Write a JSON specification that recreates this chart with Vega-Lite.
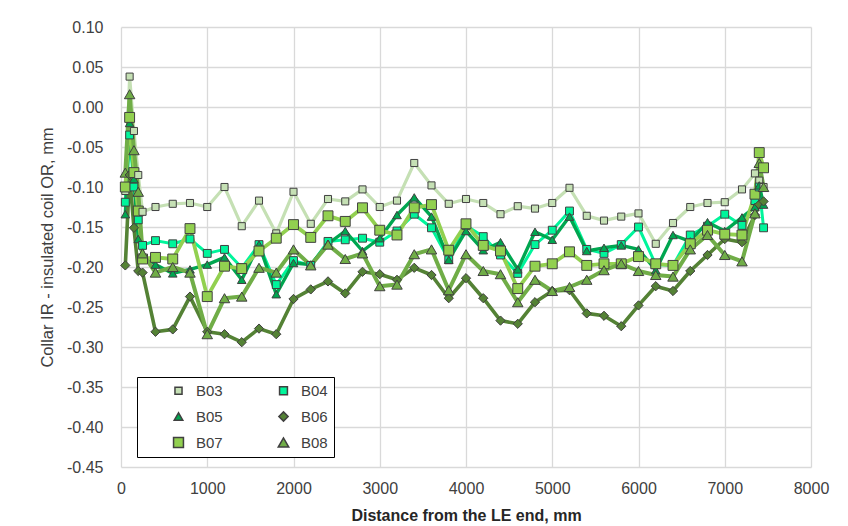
{
  "$schema": "https://vega.github.io/schema/vega-lite/v6.json",
  "width": 690,
  "height": 440,
  "autosize": {"type": "none"},
  "padding": {"left": 121, "top": 27, "right": 37, "bottom": 59},
  "background": "white",
  "config": {
    "view": {"stroke": null},
    "font": "Liberation Sans"
  },
  "data": {
    "values": [
      {"x": 50, "B03": -0.105, "B04": -0.119, "B05": -0.134, "B06": -0.198, "B07": -0.100, "B08": -0.082},
      {"x": 100, "B03": 0.038, "B04": -0.035, "B05": -0.020, "B06": -0.085, "B07": -0.013, "B08": 0.016},
      {"x": 150, "B03": -0.030, "B04": -0.100, "B05": -0.090, "B06": -0.151, "B07": -0.082, "B08": -0.054},
      {"x": 200, "B03": -0.085, "B04": -0.141, "B05": -0.165, "B06": -0.205, "B07": -0.130, "B08": -0.106},
      {"x": 250, "B03": -0.131, "B04": -0.173, "B05": -0.185, "B06": -0.207, "B07": -0.190, "B08": -0.183},
      {"x": 400, "B03": -0.125, "B04": -0.167, "B05": -0.197, "B06": -0.281, "B07": -0.188, "B08": -0.207},
      {"x": 600, "B03": -0.121, "B04": -0.171, "B05": -0.208, "B06": -0.278, "B07": -0.190, "B08": -0.200},
      {"x": 800, "B03": -0.120, "B04": -0.165, "B05": -0.203, "B06": -0.237, "B07": -0.152, "B08": -0.207},
      {"x": 1000, "B03": -0.125, "B04": -0.183, "B05": -0.197, "B06": -0.281, "B07": -0.237, "B08": -0.284},
      {"x": 1200, "B03": -0.100, "B04": -0.178, "B05": -0.188, "B06": -0.284, "B07": -0.199, "B08": -0.239},
      {"x": 1400, "B03": -0.149, "B04": -0.201, "B05": -0.216, "B06": -0.294, "B07": -0.202, "B08": -0.237},
      {"x": 1600, "B03": -0.117, "B04": -0.172, "B05": -0.172, "B06": -0.277, "B07": -0.180, "B08": -0.201},
      {"x": 1800, "B03": -0.158, "B04": -0.222, "B05": -0.234, "B06": -0.284, "B07": -0.164, "B08": -0.207},
      {"x": 2000, "B03": -0.106, "B04": -0.192, "B05": -0.195, "B06": -0.240, "B07": -0.147, "B08": -0.178},
      {"x": 2200, "B03": -0.146, "B04": -0.198, "B05": -0.197, "B06": -0.228, "B07": -0.163, "B08": -0.198},
      {"x": 2400, "B03": -0.115, "B04": -0.168, "B05": -0.171, "B06": -0.218, "B07": -0.136, "B08": -0.172},
      {"x": 2600, "B03": -0.118, "B04": -0.166, "B05": -0.155, "B06": -0.233, "B07": -0.143, "B08": -0.190},
      {"x": 2800, "B03": -0.103, "B04": -0.164, "B05": -0.180, "B06": -0.206, "B07": -0.126, "B08": -0.183},
      {"x": 3000, "B03": -0.125, "B04": -0.169, "B05": -0.164, "B06": -0.209, "B07": -0.154, "B08": -0.224},
      {"x": 3200, "B03": -0.117, "B04": -0.155, "B05": -0.135, "B06": -0.216, "B07": -0.160, "B08": -0.222},
      {"x": 3400, "B03": -0.070, "B04": -0.134, "B05": -0.113, "B06": -0.201, "B07": -0.126, "B08": -0.184},
      {"x": 3600, "B03": -0.098, "B04": -0.151, "B05": -0.137, "B06": -0.210, "B07": -0.122, "B08": -0.178},
      {"x": 3800, "B03": -0.121, "B04": -0.191, "B05": -0.191, "B06": -0.239, "B07": -0.179, "B08": -0.229},
      {"x": 4000, "B03": -0.115, "B04": -0.148, "B05": -0.155, "B06": -0.214, "B07": -0.146, "B08": -0.184},
      {"x": 4200, "B03": -0.120, "B04": -0.162, "B05": -0.179, "B06": -0.239, "B07": -0.173, "B08": -0.205},
      {"x": 4400, "B03": -0.134, "B04": -0.185, "B05": -0.169, "B06": -0.267, "B07": -0.180, "B08": -0.209},
      {"x": 4600, "B03": -0.124, "B04": -0.208, "B05": -0.203, "B06": -0.271, "B07": -0.227, "B08": -0.244},
      {"x": 4800, "B03": -0.127, "B04": -0.172, "B05": -0.156, "B06": -0.244, "B07": -0.199, "B08": -0.216},
      {"x": 5000, "B03": -0.120, "B04": -0.154, "B05": -0.166, "B06": -0.230, "B07": -0.196, "B08": -0.230},
      {"x": 5200, "B03": -0.101, "B04": -0.130, "B05": -0.137, "B06": -0.229, "B07": -0.181, "B08": -0.225},
      {"x": 5400, "B03": -0.136, "B04": -0.178, "B05": -0.180, "B06": -0.258, "B07": -0.198, "B08": -0.216},
      {"x": 5600, "B03": -0.142, "B04": -0.183, "B05": -0.176, "B06": -0.261, "B07": -0.196, "B08": -0.204},
      {"x": 5800, "B03": -0.137, "B04": -0.172, "B05": -0.173, "B06": -0.274, "B07": -0.196, "B08": -0.196},
      {"x": 6000, "B03": -0.133, "B04": -0.150, "B05": -0.178, "B06": -0.248, "B07": -0.187, "B08": -0.205},
      {"x": 6200, "B03": -0.171, "B04": -0.197, "B05": -0.204, "B06": -0.224, "B07": -0.196, "B08": -0.210},
      {"x": 6400, "B03": -0.145, "B04": -0.198, "B05": -0.160, "B06": -0.230, "B07": -0.198, "B08": -0.212},
      {"x": 6600, "B03": -0.125, "B04": -0.160, "B05": -0.168, "B06": -0.205, "B07": -0.171, "B08": -0.178},
      {"x": 6800, "B03": -0.120, "B04": -0.149, "B05": -0.144, "B06": -0.185, "B07": -0.154, "B08": -0.160},
      {"x": 7000, "B03": -0.119, "B04": -0.134, "B05": -0.155, "B06": -0.165, "B07": -0.159, "B08": -0.185},
      {"x": 7200, "B03": -0.103, "B04": -0.148, "B05": -0.138, "B06": -0.169, "B07": -0.160, "B08": -0.193},
      {"x": 7350, "B03": -0.083, "B04": -0.117, "B05": -0.125, "B06": -0.135, "B07": -0.109, "B08": -0.133},
      {"x": 7400, "B03": -0.092, "B04": -0.100, "B05": -0.098, "B06": -0.122, "B07": -0.057, "B08": -0.070},
      {"x": 7450, "B03": -0.100, "B04": -0.151, "B05": -0.122, "B06": -0.118, "B07": -0.076, "B08": -0.100}
    ]
  },
  "transform": [{"fold": ["B03", "B04", "B05", "B06", "B07", "B08"], "as": ["series", "value"]}],
  "encoding": {
    "x": {
      "field": "x",
      "type": "quantitative",
      "scale": {"domain": [0, 8000], "nice": false},
      "axis": {
        "title": "Distance from the LE end, mm",
        "values": [0, 1000, 2000, 3000, 4000, 5000, 6000, 7000, 8000],
        "format": "d",
        "grid": true,
        "gridColor": "#D9D9D9",
        "gridWidth": 1.3,
        "domain": false,
        "ticks": false,
        "labelFont": "Liberation Sans",
        "labelFontSize": 16,
        "labelColor": "#404040",
        "labelPadding": 13,
        "labelFlush": false,
        "titleFont": "Liberation Sans",
        "titleFontSize": 16,
        "titleFontWeight": "bold",
        "titleColor": "#262626",
        "titlePadding": 11
      }
    },
    "y": {
      "field": "value",
      "type": "quantitative",
      "scale": {"domain": [-0.45, 0.1], "nice": false, "zero": false},
      "axis": {
        "title": "Collar IR - insulated coil OR, mm",
        "values": [0.1, 0.05, 0, -0.05, -0.1, -0.15, -0.2, -0.25, -0.3, -0.35, -0.4, -0.45],
        "labelExpr": "replace(format(datum.value, '.2f'), '\u2212', '-')",
        "grid": true,
        "gridColor": "#D9D9D9",
        "gridWidth": 1.3,
        "domain": false,
        "ticks": false,
        "labelFont": "Liberation Sans",
        "labelFontSize": 16,
        "labelColor": "#404040",
        "labelPadding": 18,
        "labelFlush": false,
        "titleFont": "Liberation Sans",
        "titleFontSize": 16.5,
        "titleFontWeight": "normal",
        "titleColor": "#404040",
        "titlePadding": 11
      }
    }
  },
  "layer": [
    {
      "mark": {"type": "line", "strokeJoin": "round"},
      "encoding": {
        "stroke": {
          "field": "series",
          "type": "nominal",
          "scale": {"domain": ["B08", "B07", "B06", "B05", "B04", "B03"], "range": ["#70AD47", "#92D050", "#548235", "#00A650", "#00F59B", "#C5E0B4"]},
          "legend": null
        },
        "strokeWidth": {
          "field": "series",
          "type": "ordinal",
          "scale": {"domain": ["B04", "B03", "B05", "B06", "B07", "B08"], "range": [3, 4, 3, 2.5, 3, 3]},
          "legend": null
        }
      }
    },
    {
      "mark": {"type": "point", "filled": true, "stroke": "#404040", "strokeWidth": 1, "opacity": 1},
      "encoding": {
        "fill": {
          "field": "series",
          "type": "nominal",
          "scale": {"domain": ["B03", "B04", "B05", "B06", "B07", "B08"], "range": ["#C5E0B4", "#00F59B", "#00A650", "#548235", "#92D050", "#70AD47"]},
          "legend": {
            "title": null,
            "orient": "none",
            "legendX": 16,
            "legendY": 350,
            "direction": "horizontal",
            "columns": 2,
            "gridAlign": "all",
            "fillColor": "white",
            "strokeColor": "black",
            "padding": 6,
            "labelFont": "Liberation Sans",
            "labelFontSize": 15,
            "labelColor": "#404040",
            "rowPadding": 9,
            "columnPadding": 25,
            "labelOffset": 10,
            "symbolOffset": 28,
            "encode": {"symbols": {"update": {"stroke": {"value": "#404040"}, "strokeWidth": {"value": 1}}}}
          }
        },
        "shape": {
          "field": "series",
          "type": "nominal",
          "scale": {"domain": ["B03", "B04", "B05", "B06", "B07", "B08"], "range": ["square", "square", "triangle-up", "diamond", "square", "triangle-up"]},
          "legend": {
            "title": null,
            "orient": "none",
            "legendX": 16,
            "legendY": 350,
            "direction": "horizontal",
            "columns": 2,
            "gridAlign": "all",
            "fillColor": "white",
            "strokeColor": "black",
            "padding": 6,
            "labelFont": "Liberation Sans",
            "labelFontSize": 15,
            "labelColor": "#404040",
            "rowPadding": 9,
            "columnPadding": 25,
            "labelOffset": 10,
            "symbolOffset": 28,
            "encode": {"symbols": {"update": {"stroke": {"value": "#404040"}, "strokeWidth": {"value": 1}}}}
          }
        },
        "size": {
          "field": "series",
          "type": "ordinal",
          "scale": {"domain": ["B03", "B04", "B05", "B06", "B07", "B08"], "range": [50, 110, 120, 90, 120, 120]},
          "legend": {
            "title": null,
            "orient": "none",
            "legendX": 16,
            "legendY": 350,
            "direction": "horizontal",
            "columns": 2,
            "gridAlign": "all",
            "fillColor": "white",
            "strokeColor": "black",
            "padding": 6,
            "labelFont": "Liberation Sans",
            "labelFontSize": 15,
            "labelColor": "#404040",
            "rowPadding": 9,
            "columnPadding": 25,
            "labelOffset": 10,
            "symbolOffset": 28,
            "encode": {"symbols": {"update": {"stroke": {"value": "#404040"}, "strokeWidth": {"value": 1}}}}
          }
        }
      }
    }
  ]
}
